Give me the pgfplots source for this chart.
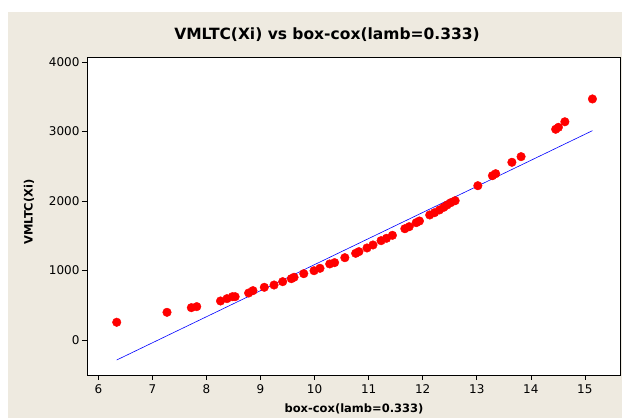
\documentclass[border=0pt]{standalone}
\usepackage{fontspec}
\setmainfont{DejaVu Sans}
\usepackage{pgfplots}
\pgfplotsset{compat=1.18}
\usetikzlibrary{backgrounds,calc}
\definecolor{mtbg}{RGB}{238,234,224}

\pgfplotstableread{
x y
6.34 255
7.27 398
7.72 465
7.82 480
8.26 561
8.38 595
8.48 623
8.53 623
8.78 676
8.86 710
9.07 758
9.25 791
9.41 839
9.57 882
9.62 902
9.80 954
9.99 997
10.10 1031
10.28 1094
10.37 1113
10.56 1184
10.76 1247
10.82 1271
10.97 1324
11.08 1367
11.23 1429
11.33 1463
11.44 1506
11.67 1601
11.75 1630
11.88 1688
11.94 1712
12.13 1799
12.22 1832
12.31 1871
12.39 1909
12.45 1942
12.52 1976
12.60 2004
13.02 2220
13.29 2364
13.35 2393
13.65 2557
13.82 2638
14.46 3032
14.51 3060
14.63 3140
15.14 3468
}\pts

\begin{document}
\begin{tikzpicture}[x=1pt,y=1pt]
\begin{axis}[
    scale only axis,
    width=533pt, height=318pt,
    xmin=5.79, xmax=15.65,
    ymin=-504, ymax=4072,
    xtick={6,...,15},
    ytick={0,1000,2000,3000,4000},
    axis background/.style={fill=white},
    axis line style={black, line width=0.9pt},
    tick align=outside,
    tick pos=left,
    major tick length=5pt,
    tick style={black, line width=0.6pt},
    scaled y ticks=false,
    /pgf/number format/assume math mode=true,
    /pgf/number format/1000 sep={},
    tick label style={font=\fontsize{12}{13}\selectfont},
    xticklabel style={yshift=-1pt},
    yticklabel style={xshift=1pt},
    clip=false,
]
\coordinate (O) at (rel axis cs:0,0);
\addplot[blue, line width=0.6pt] coordinates {(6.34,-288) (15.14,3012)};
\addplot[only marks, mark=*, mark size=4.3pt, red, mark options={draw=red, fill=red}] table[x=x,y=y] {\pts};
\end{axis}
% grey panel behind the axis, page is 622x418 with the axis frame at (87,43)
\begin{scope}[on background layer]
\fill[white] ($(O)+(-87,-43)$) rectangle ++(622,418);
\fill[mtbg] ($(O)+(-79,-43)$) rectangle ++(614,406);
\end{scope}
\node[font=\fontsize{15.5}{17}\selectfont\bfseries] at ($(O)+(240,340)$) {VMLTC(Xi) vs box-cox(lamb=0.333)};
\node[font=\fontsize{11.5}{13}\selectfont\bfseries] at ($(O)+(267,-34)$) {box-cox(lamb=0.333)};
\node[font=\fontsize{11.5}{13}\selectfont\bfseries, rotate=90] at ($(O)+(-58,163)$) {VMLTC(Xi)};
\end{tikzpicture}
\end{document}
